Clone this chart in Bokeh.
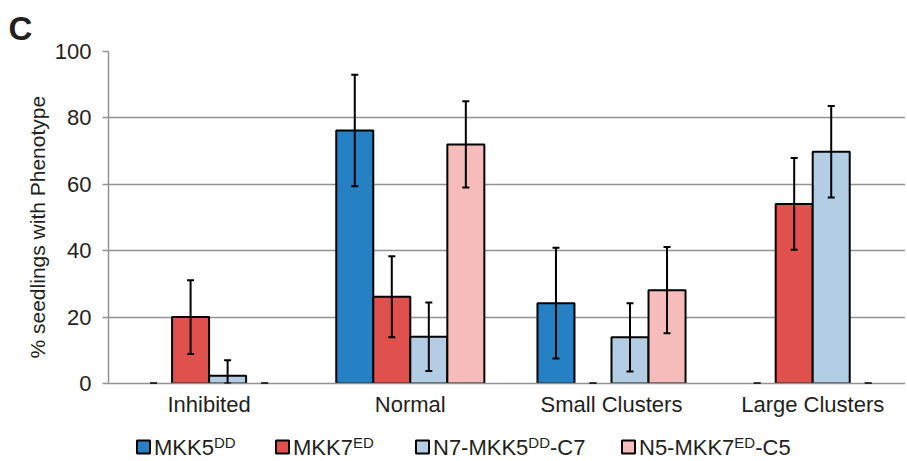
from bokeh.plotting import figure
from bokeh.models import Range1d, FixedTicker, Whisker, TeeHead, ColumnDataSource, Title
from bokeh.layouts import column
from bokeh.embed import file_html
from bokeh.resources import INLINE
from bokeh.core.properties import value

# ---------------- data ----------------
categories = ["Inhibited", "Normal", "Small Clusters", "Large Clusters"]

mkk5dd = [0, 76.2, 24.2, 0]
mkk5dd_err = [0, 16.8, 16.7, 0]

mkk7ed = [20.0, 26.1, 0, 54.1]
mkk7ed_err = [11.1, 12.2, 0, 13.8]

n7_mkk5dd_c7 = [2.3, 14.1, 13.9, 69.8]
n7_mkk5dd_c7_err = [4.7, 10.3, 10.3, 13.8]

n5_mkk7ed_c5 = [0, 72.0, 28.1, 0]
n5_mkk7ed_c5_err = [0, 13.0, 13.0, 0]

# legend label pieces: (main, superscript, tail)
legend_labels = [("MKK5", "DD", ""), ("MKK7", "ED", ""),
                 ("N7-MKK5", "DD", "-C7"), ("N5-MKK7", "ED", "-C5")]

y_ticks = [0, 20, 40, 60, 80, 100]
y_label = "% seedlings with Phenotype"
panel_label = "C"

# ---------------- style ----------------
colors = ["#2581C4", "#E0514E", "#B3CDE4", "#F6BCBB"]
values = [mkk5dd, mkk7ed, n7_mkk5dd_c7, n5_mkk7ed_c5]
errors = [mkk5dd_err, mkk7ed_err, n7_mkk5dd_c7_err, n5_mkk7ed_c5_err]
FONT = "Liberation Sans"
TXT = "#231F20"
GRID = "#929292"
bar_w = 0.184
offsets = [(-1.5 + i) * bar_w for i in range(4)]

W = 905
H_MAIN = 424
H_LEG = 37
LEFT = 108
PX_PER_CAT = 201.2

p = figure(width=W, height=H_MAIN, output_backend="svg", toolbar_location=None,
           x_range=Range1d(-0.5, -0.5 + (W - LEFT) / PX_PER_CAT), y_range=Range1d(0, 100),
           min_border_left=LEFT, min_border_right=0, min_border_top=51,
           min_border_bottom=41, outline_line_color=None, title=panel_label)

p.title.align = "left"
p.title.offset = -100
p.title.standoff = 10
p.title.text_font = FONT
p.title.text_font_size = "33px"
p.title.text_font_style = "bold"
p.title.text_color = TXT

for i in range(4):
    xs = [c + offsets[i] for c in range(len(categories))]
    vals = values[i]
    errs = errors[i]
    bx = [x for x, v in zip(xs, vals) if v > 0]
    bt = [v for v in vals if v > 0]
    p.vbar(x=bx, top=bt, bottom=0, width=bar_w, fill_color=colors[i],
           line_color="black", line_width=2)
    src = ColumnDataSource(dict(
        base=xs,
        upper=[v + e for v, e in zip(vals, errs)],
        lower=[max(v - e, 0) for v, e in zip(vals, errs)],
    ))
    p.add_layout(Whisker(source=src, base="base", upper="upper", lower="lower",
                         dimension="height", line_color="black", line_width=2,
                         level="overlay",
                         upper_head=TeeHead(size=7, line_width=2, line_color="black"),
                         lower_head=TeeHead(size=7, line_width=2, line_color="black")))

p.xgrid.visible = False
p.ygrid.grid_line_color = GRID
p.ygrid.grid_line_width = 1.5
p.yaxis.ticker = FixedTicker(ticks=y_ticks)
p.xaxis.ticker = FixedTicker(ticks=list(range(len(categories))))
p.xaxis.major_label_overrides = {i: c for i, c in enumerate(categories)}

for ax in (p.xaxis[0], p.yaxis[0]):
    ax.axis_line_color = GRID
    ax.axis_line_width = 1.5
    ax.major_label_text_font = FONT
    ax.major_label_text_font_size = "22px"
    ax.major_label_text_color = TXT
    ax.minor_tick_line_color = None

p.xaxis.major_tick_line_color = None
p.xaxis.major_tick_out = 0
p.xaxis.major_tick_in = 0
p.xaxis.major_label_standoff = 8
p.yaxis.major_tick_line_color = GRID
p.yaxis.major_tick_line_width = 1.5
p.yaxis.major_tick_in = 0
p.yaxis.major_tick_out = 6
p.yaxis.major_label_standoff = 11

# y-axis title as a left-side Title, anchored from the bottom of the frame
p.add_layout(Title(text=y_label, align="left", offset=25, standoff=5,
                   text_font=FONT, text_font_size="21px", text_font_style="normal",
                   text_color=TXT), "left")

# ---------------- legend (separate strip, page-pixel coordinates) ----------------
leg = figure(width=W, height=H_LEG, output_backend="svg", toolbar_location=None,
             title=None,
             x_range=Range1d(LEFT, W), y_range=Range1d(H_MAIN + H_LEG, H_MAIN),
             min_border=0, min_border_left=LEFT, min_border_right=0, min_border_top=0,
             min_border_bottom=0, outline_line_color=None,
             x_axis_location=None, y_axis_location=None)
leg.grid.visible = False

ADV = {"M": 833, "K": 667, "5": 556, "7": 556, "N": 722, "-": 333, "C": 722,
       "D": 722, "E": 667}


def tw(s, size):
    return sum(ADV[ch] for ch in s) / 1000.0 * size


box_left = [136, 275, 415, 621]
base_y = 454
MAIN_SZ, SUP_SZ = 22, 15
ASC = 0.89
tx, ty, tt, ts = [], [], [], []
for i, (m, s, t) in enumerate(legend_labels):
    x0 = box_left[i] + 17.5
    tx.append(x0); ty.append(base_y - ASC * MAIN_SZ); tt.append(m); ts.append(f"{MAIN_SZ}px")
    x1 = x0 + tw(m, MAIN_SZ)
    tx.append(x1); ty.append(base_y - 7 - ASC * SUP_SZ); tt.append(s); ts.append(f"{SUP_SZ}px")
    x2 = x1 + tw(s, SUP_SZ)
    if t:
        tx.append(x2); ty.append(base_y - ASC * MAIN_SZ); tt.append(t); ts.append(f"{MAIN_SZ}px")

leg.rect(x=[b + 7 for b in box_left], y=[base_y - 7.5] * 4, width=13, height=13,
         fill_color=colors, line_color="black", line_width=2)
tsrc = ColumnDataSource(dict(x=tx, y=ty, text=tt, fs=ts))
leg.text(x="x", y="y", text="text", text_font_size="fs", source=tsrc,
         text_font=value(FONT), text_color=TXT, text_baseline="top",
         text_align="left")

layout = column(p, leg, spacing=0)
open("out.html", "w").write(file_html(layout, INLINE))
